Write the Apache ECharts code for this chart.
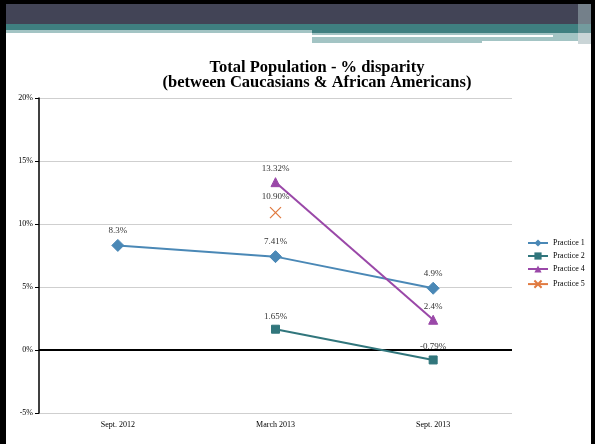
<!DOCTYPE html>
<html>
<head>
<meta charset="utf-8">
<script src="https://cdn.jsdelivr.net/npm/echarts@6/dist/echarts.min.js"></script>
<style>
  html, body { margin: 0; padding: 0; background: #fff; }
  #chart { width: 595px; height: 444px; }
</style>
</head>
<body>
<div id="chart"></div>
<script>
// 数据
const categories = ['Sept. 2012', 'March 2013', 'Sept. 2013']
const practice1 = [8.3, 7.41, 4.9]
const practice2 = [null, 1.65, -0.79]
const practice4 = [null, 13.32, 2.4]
const practice5 = [null, 10.90, null]
const labels1 = ['8.3%', '7.41%', '4.9%']
const labels2 = ['', '1.65%', '-0.79%']
const labels4 = ['', '13.32%', '2.4%']
const labels5 = ['', '10.90%', '']
const yTicks = [-5, 0, 5, 10, 15, 20]

const font = 'Liberation Serif'

// 折线系列
function lineSeries (name, data, texts, color, symbol, size) {
  return {
    name: name,
    type: 'line',
    data: data,
    symbol: symbol,
    symbolSize: size,
    connectNulls: false,
    lineStyle: { color: color, width: 2 },
    itemStyle: { color: color, borderColor: color },
    label: {
      show: true,
      position: 'top',
      distance: 4,
      fontFamily: font,
      fontSize: 9,
      color: '#333',
      formatter: p => texts[p.dataIndex]
    },
    z: 3
  }
}

const myChart = echarts.init(document.getElementById('chart'))
myChart.setOption({
  animation: false,
  backgroundColor: '#fff',
  title: {
    text: 'Total Population - % disparity\n(between Caucasians & African Americans)',
    left: 312,
    top: 55,
    textAlign: 'center',
    textStyle: { fontFamily: font, fontSize: 16.5, fontWeight: 'bold', color: '#000', lineHeight: 15 }
  },
  // 幻灯片边框和页眉
  graphic: [
    { type: 'rect', shape: { x: 0, y: 0, width: 595, height: 24 }, style: { fill: '#424456' }, z: 10 },
    { type: 'rect', shape: { x: 0, y: 24, width: 595, height: 6 }, style: { fill: '#3f7f80' }, z: 10 },
    { type: 'rect', shape: { x: 0, y: 30, width: 312, height: 3 }, style: { fill: '#a3c4c4' }, z: 10 },
    { type: 'rect', shape: { x: 312, y: 30, width: 283, height: 3 }, style: { fill: '#3f7f80' }, z: 10 },
    { type: 'rect', shape: { x: 312, y: 33, width: 170, height: 10 }, style: { fill: '#a3c4c4' }, z: 10 },
    { type: 'rect', shape: { x: 482, y: 33, width: 96, height: 8 }, style: { fill: '#a3c4c4' }, z: 10 },
    { type: 'rect', shape: { x: 312, y: 35, width: 241, height: 2 }, style: { fill: '#fff' }, z: 11 },
    { type: 'rect', shape: { x: 578, y: 0, width: 13, height: 44 }, style: { fill: '#9fb3b6', opacity: 0.55 }, z: 11 },
    { type: 'rect', shape: { x: 0, y: 0, width: 595, height: 4 }, style: { fill: '#000' }, z: 12 },
    { type: 'rect', shape: { x: 0, y: 0, width: 6, height: 444 }, style: { fill: '#000' }, z: 12 },
    { type: 'rect', shape: { x: 591, y: 0, width: 4, height: 444 }, style: { fill: '#000' }, z: 12 }
  ],
  grid: { left: 39, right: 83, top: 98, bottom: 31 },
  legend: {
    orient: 'vertical',
    left: 522,
    top: 234,
    itemGap: 5,
    itemWidth: 20,
    itemHeight: 9,
    textStyle: { fontFamily: font, fontSize: 8, color: '#000' },
    data: ['Practice 1', 'Practice 2', 'Practice 4', 'Practice 5']
  },
  xAxis: {
    type: 'category',
    data: categories,
    boundaryGap: true,
    axisLine: { show: false, onZero: false },
    axisTick: { show: false },
    axisLabel: { fontFamily: font, fontSize: 8, color: '#000', margin: 8 }
  },
  yAxis: {
    type: 'value',
    min: yTicks[0],
    max: yTicks[yTicks.length - 1],
    interval: 5,
    axisLine: { show: true, lineStyle: { color: '#000', width: 1.5 } },
    axisTick: { show: true, length: 4, lineStyle: { color: '#000' } },
    axisLabel: { fontFamily: font, fontSize: 8, color: '#000', margin: 6, formatter: v => v + '%' },
    splitLine: { lineStyle: { color: '#cfcfcf', width: 1 } }
  },
  series: [
    Object.assign(lineSeries('Practice 1', practice1, labels1, '#4a88b6', 'diamond', 12), {
      markLine: {
        silent: true,
        symbol: 'none',
        label: { show: false },
        lineStyle: { color: '#000', width: 2, type: 'solid' },
        data: [{ yAxis: 0 }],
        z: 2
      }
    }),
    lineSeries('Practice 2', practice2, labels2, '#31767c', 'rect', 8),
    lineSeries('Practice 4', practice4, labels4, '#9a48a8', 'triangle', 9),
    Object.assign(lineSeries('Practice 5', practice5, labels5, '#e07a40', 'path://M0,0L10,10M10,0L0,10', 11), {
      itemStyle: { color: 'none', borderColor: '#e07a40', borderWidth: 1.3 }
    })
  ]
})
</script>
</body>
</html>
